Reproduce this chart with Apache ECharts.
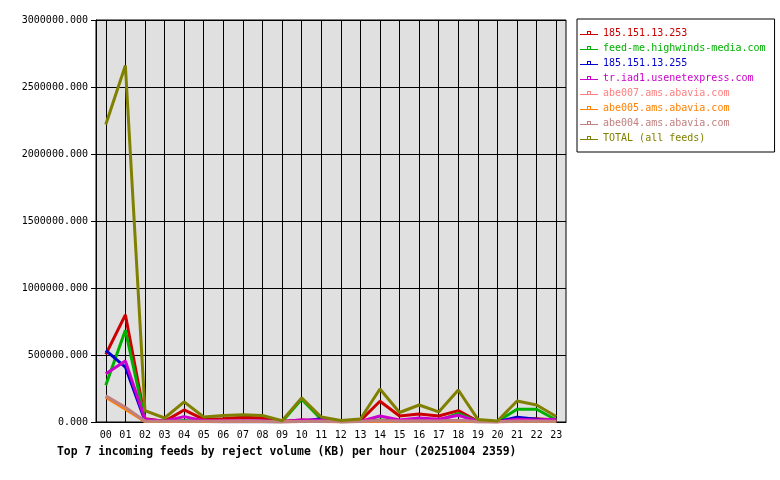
<!DOCTYPE html>
<html>
<head>
<meta charset="utf-8">
<style>
  html, body { margin: 0; padding: 0; background: #fff; }
  #chart { width: 780px; height: 480px; }
</style>
<script src="https://cdn.jsdelivr.net/npm/echarts@6/dist/echarts.min.js"></script>
</head>
<body>
<div id="chart"></div>
<script>
  // hours of the day
  let hours = ['00', '01', '02', '03', '04', '05', '06', '07', '08', '09', '10', '11',
    '12', '13', '14', '15', '16', '17', '18', '19', '20', '21', '22', '23']

  // reject volume per feed (KB)
  let feed253 = [505000, 800000, 25000, 5000, 90000, 20000, 25000, 35000, 30000, 3000, 15000, 8000,
    3000, 10000, 155000, 45000, 60000, 45000, 85000, 5000, 3000, 20000, 25000, 15000]
  let highwinds = [275000, 685000, 15000, 3000, 10000, 3000, 3000, 3000, 3000, 2000, 170000, 20000,
    2000, 3000, 15000, 5000, 15000, 10000, 65000, 3000, 3000, 95000, 95000, 15000]
  let feed255 = [535000, 410000, 10000, 3000, 5000, 3000, 2000, 2000, 2000, 1000, 5000, 25000,
    2000, 5000, 8000, 5000, 5000, 5000, 10000, 2000, 2000, 35000, 20000, 5000]
  let usenetexpress = [360000, 455000, 20000, 5000, 40000, 10000, 10000, 10000, 10000, 3000, 15000, 15000,
    3000, 5000, 45000, 15000, 30000, 20000, 50000, 5000, 2000, 20000, 15000, 20000]
  let abe007 = [190000, 105000, 5000, 4000, 4000, 4000, 5000, 5000, 4000, 2000, 3000, 4000,
    2000, 3000, 8000, 5000, 6000, 5000, 8000, 3000, 2000, 5000, 5000, 4000]
  let abe005 = [185000, 95000, 4000, 3000, 3000, 3000, 4000, 4000, 3000, 2000, 3000, 3000,
    2000, 3000, 5000, 4000, 4000, 4000, 6000, 2000, 2000, 4000, 4000, 3000]
  let abe004 = [195000, 110000, 6000, 5000, 5000, 5000, 6000, 6000, 5000, 2000, 4000, 5000,
    2000, 4000, 10000, 6000, 7000, 6000, 10000, 3000, 2000, 6000, 6000, 5000]
  let total = [2220000, 2660000, 85000, 30000, 150000, 37000, 48000, 54000, 48000, 10000, 180000, 37000,
    11000, 22000, 246000, 71000, 127000, 75000, 239000, 19000, 8000, 157000, 127000, 41000]

  let names = ['185.151.13.253', 'feed-me.highwinds-media.com', '185.151.13.255', 'tr.iad1.usenetexpress.com',
    'abe007.ams.abavia.com', 'abe005.ams.abavia.com', 'abe004.ams.abavia.com', 'TOTAL (all feeds)']
  let colors = ['#cc0000', '#00b000', '#0000cc', '#cc00cc', '#ff8080', '#ff8000', '#c08080', '#808000']
  let values = [feed253, highwinds, feed255, usenetexpress, abe007, abe005, abe004, total]

  // legend icon: thin line with a small hollow square on it
  let legendIcon = 'path://M0,4L18,4L18,5L0,5Z M7,1L11,1L11,4L10,4L10,2L8,2L8,4L7,4Z'

  let font = 'DejaVu Sans Mono'
  let myChart = echarts.init(document.getElementById('chart'))

  let series = []
  for (let i = 0; i < names.length; i++) {
    series.push({
      name: names[i],
      type: 'line',
      data: values[i],
      color: colors[i],
      showSymbol: false,
      lineStyle: { width: 3, color: colors[i] },
      emphasis: { disabled: true },
      animation: false
    })
  }

  let option = {
    backgroundColor: '#ffffff',
    title: {
      text: 'Top 7 incoming feeds by reject volume (KB) per hour (20251004 2359)',
      left: 57,
      top: 447,
      padding: 0,
      textStyle: { fontFamily: font, fontSize: 11.4, fontWeight: 'bold', color: '#000' }
    },
    legend: {
      orient: 'vertical',
      left: 577,
      top: 19,
      padding: [9, 9, 9, 3],
      itemGap: 5,
      itemWidth: 18,
      itemHeight: 4,
      icon: legendIcon,
      borderColor: '#000',
      borderWidth: 1,
      selectedMode: false,
      data: names.map((n, i) => ({ name: n, textStyle: { color: colors[i] } })),
      textStyle: { fontFamily: font, fontSize: 10, lineHeight: 10 }
    },
    grid: {
      left: 96,
      right: 214,
      top: 20,
      bottom: 58,
      show: true,
      backgroundColor: '#e0e0e0',
      borderColor: '#000',
      borderWidth: 1
    },
    xAxis: {
      type: 'category',
      data: hours,
      boundaryGap: true,
      axisLine: { lineStyle: { color: '#000' } },
      axisTick: { alignWithLabel: true, length: 5, lineStyle: { color: '#000' } },
      axisLabel: { fontFamily: font, fontSize: 10, color: '#000', margin: 8, interval: 0 },
      splitLine: { show: true, alignWithLabel: true, lineStyle: { color: '#000', width: 1 } }
    },
    yAxis: {
      type: 'value',
      min: 0,
      max: 3000000,
      interval: 500000,
      axisLine: { show: true, lineStyle: { color: '#000' } },
      axisTick: { show: true, length: 5, lineStyle: { color: '#000' } },
      axisLabel: {
        fontFamily: font, fontSize: 10, color: '#000', margin: 8,
        formatter: (v) => v.toFixed(3)
      },
      splitLine: { show: true, lineStyle: { color: '#000', width: 1 } }
    },
    series: series
  }

  myChart.setOption(option)
</script>
</body>
</html>
